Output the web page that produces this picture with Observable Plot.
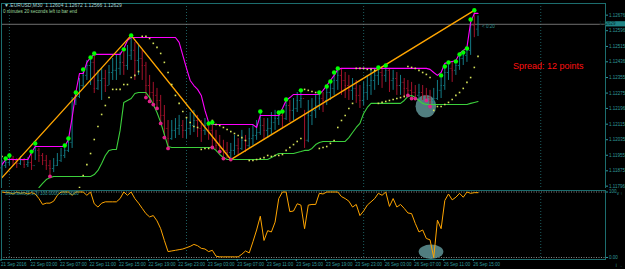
<!DOCTYPE html>
<html><head><meta charset="utf-8">
<script src="https://cdn.jsdelivr.net/npm/d3@7"></script>
<script src="https://cdn.jsdelivr.net/npm/@observablehq/plot@0.6"></script>
<style>
html,body{margin:0;padding:0;background:#000;}
#wrap{position:relative;width:625px;height:269px;background:#000;overflow:hidden;font-family:"Liberation Sans",Arial,sans-serif;}
#main{position:absolute;left:0;top:0;}
#ind{position:absolute;left:0;top:188px;}
.lbl{position:absolute;white-space:nowrap;line-height:1;}
</style></head><body>
<div id="wrap">
<div id="main"></div><div id="ind"></div>
<div class="lbl" style="left:4px;top:3px;font-size:5px;color:#a9d4d4">▼ EURUSD,M30&nbsp; 1.12604 1.12672 1.12566 1.12629</div>
<div class="lbl" style="left:3px;top:10px;font-size:4.6px;color:#9fd99f">0 minutes 20 seconds left to bar end</div>
<div class="lbl" style="left:482px;top:25px;font-size:4.6px;color:#2f8f8f">&lt; 0:20</div>
<div class="lbl" style="left:513px;top:62px;font-size:9px;color:#ff1010">Spread: 12 points</div>
<div class="lbl" style="left:5px;top:192px;font-size:4.5px;color:#2f9a9a">Stochastic(5,3,3) 100.0000 100.0000</div>
</div>
<script>
// ---- data (EURUSD M30, bars indexed from 21 Sep 23:00) ----
const closeP = [1.11902,1.11918,1.11938,1.11928,1.11913,1.11928,1.11907,1.11918,1.11902,1.11980,
1.11954,1.11928,1.11902,1.11887,1.11902,1.11928,1.11954,1.11980,1.12021,1.12237,
1.12258,1.12314,1.12366,1.12417,1.12433,1.12299,1.12340,1.12350,1.12314,1.12381,
1.12392,1.12402,1.12433,1.12417,1.12469,1.12495,1.12443,1.12453,1.12417,1.12314,
1.12278,1.12263,1.12237,1.12160,1.12093,1.12041,1.12083,1.12093,1.12108,1.12083,
1.12093,1.12108,1.12134,1.12093,1.12083,1.12108,1.12083,1.12032,1.12005,1.11990,
1.11980,1.11969,1.11980,1.12005,1.11990,1.12032,1.12005,1.12041,1.12057,1.12072,
1.12108,1.12083,1.12093,1.12124,1.12144,1.12160,1.12144,1.12211,1.12186,1.12196,
1.12237,1.12247,1.12032,1.12160,1.12186,1.12211,1.12247,1.12237,1.12278,1.12299,
1.12340,1.12366,1.12340,1.12314,1.12289,1.12299,1.12263,1.12237,1.12278,1.12314,
1.12340,1.12366,1.12381,1.12366,1.12392,1.12340,1.12350,1.12314,1.12330,1.12299,
1.12289,1.12278,1.12263,1.12278,1.12263,1.12252,1.12237,1.12247,1.12289,1.12314,
1.12381,1.12402,1.12392,1.12417,1.12453,1.12469,1.12495,1.12623,1.12604,1.12629];
const highP = [1.11928,1.11938,1.11954,1.11949,1.11938,1.11949,1.11938,1.11943,1.11974,1.12016,
1.11990,1.11964,1.11954,1.11928,1.11938,1.11964,1.11990,1.12005,1.12041,1.12252,
1.12278,1.12350,1.12397,1.12443,1.12458,1.12479,1.12392,1.12402,1.12392,1.12417,
1.12453,1.12469,1.12484,1.12500,1.12520,1.12572,1.12536,1.12520,1.12495,1.12433,
1.12366,1.12330,1.12299,1.12263,1.12211,1.12134,1.12134,1.12144,1.12160,1.12134,
1.12144,1.12175,1.12186,1.12160,1.12134,1.12144,1.12119,1.12124,1.12083,1.12057,
1.12032,1.12021,1.12016,1.12057,1.12041,1.12083,1.12057,1.12093,1.12108,1.12134,
1.12180,1.12144,1.12144,1.12175,1.12186,1.12175,1.12180,1.12242,1.12237,1.12247,
1.12278,1.12289,1.12186,1.12237,1.12247,1.12263,1.12278,1.12278,1.12309,1.12335,
1.12381,1.12402,1.12402,1.12381,1.12366,1.12350,1.12340,1.12314,1.12330,1.12366,
1.12392,1.12402,1.12407,1.12402,1.12417,1.12402,1.12392,1.12381,1.12366,1.12350,
1.12340,1.12330,1.12314,1.12320,1.12314,1.12299,1.12289,1.12299,1.12340,1.12366,
1.12412,1.12433,1.12433,1.12438,1.12474,1.12484,1.12505,1.12654,1.12701,1.12672];
const lowP = [1.11840,1.11887,1.11902,1.11897,1.11887,1.11902,1.11887,1.11892,1.11877,1.11928,
1.11918,1.11902,1.11877,1.11846,1.11866,1.11897,1.11918,1.11938,1.11969,1.11990,
1.12211,1.12247,1.12299,1.12340,1.12314,1.12273,1.12289,1.12237,1.12278,1.12314,
1.12340,1.12340,1.12366,1.12366,1.12392,1.12443,1.12340,1.12366,1.12340,1.12252,
1.12232,1.12216,1.12196,1.12119,1.12046,1.11990,1.12032,1.12041,1.12057,1.12041,
1.12041,1.12057,1.12072,1.12046,1.12021,1.12057,1.12032,1.11995,1.11980,1.11974,
1.11938,1.11938,1.11933,1.11954,1.11954,1.11980,1.11969,1.11990,1.12005,1.12032,
1.12057,1.12032,1.12041,1.12057,1.12083,1.12108,1.12093,1.12134,1.12124,1.12134,
1.12175,1.12196,1.11990,1.12020,1.12108,1.12144,1.12186,1.12175,1.12211,1.12237,
1.12263,1.12289,1.12263,1.12247,1.12237,1.12237,1.12222,1.12196,1.12211,1.12237,
1.12263,1.12289,1.12314,1.12299,1.12330,1.12278,1.12289,1.12263,1.12263,1.12247,
1.12263,1.12247,1.12247,1.12237,1.12237,1.12237,1.12206,1.12211,1.12237,1.12247,
1.12289,1.12340,1.12330,1.12366,1.12392,1.12417,1.12433,1.12469,1.12560,1.12566];
const firstOpen = 1.11890;
const upperBand = [1.11907,1.11933,1.11933,1.11933,1.11933,1.11933,1.11933,1.11933,1.11969,1.12000,
1.12000,1.12000,1.12000,1.12000,1.12000,1.12000,1.12000,1.12000,1.12036,1.12149,
1.12278,1.12376,1.12376,1.12433,1.12458,1.12474,1.12474,1.12474,1.12474,1.12474,
1.12474,1.12474,1.12474,1.12505,1.12546,1.12561,1.12561,1.12561,1.12561,1.12561,
1.12561,1.12561,1.12561,1.12561,1.12561,1.12561,1.12561,1.12561,1.12536,1.12469,
1.12402,1.12340,1.12314,1.12294,1.12263,1.12186,1.12124,1.12113,1.12113,1.12113,
1.12113,1.12113,1.12113,1.12113,1.12113,1.12113,1.12113,1.12113,1.12113,1.12098,
1.12160,1.12160,1.12160,1.12160,1.12160,1.12160,1.12196,1.12237,1.12252,1.12268,
1.12268,1.12268,1.12268,1.12268,1.12268,1.12268,1.12268,1.12289,1.12314,1.12340,
1.12366,1.12397,1.12402,1.12402,1.12402,1.12402,1.12402,1.12402,1.12402,1.12402,
1.12402,1.12402,1.12402,1.12402,1.12402,1.12402,1.12402,1.12402,1.12402,1.12402,
1.12402,1.12402,1.12402,1.12402,1.12402,1.12402,1.12397,1.12381,1.12366,1.12381,
1.12428,1.12433,1.12438,1.12443,1.12479,1.12495,1.12510,1.12639,1.12685,1.12685];
const lowerBand = [null,null,null,null,null,null,null,null,null,null,
1.11789,1.11810,1.11830,1.11840,1.11846,1.11846,1.11846,1.11846,1.11846,1.11846,
1.11846,1.11846,1.11846,1.11846,1.11846,1.11856,1.11877,1.11913,1.11954,1.11980,
1.11985,1.11985,1.12083,1.12227,1.12237,1.12247,1.12273,1.12278,1.12278,1.12278,
1.12252,1.12216,1.12175,1.12124,1.12062,1.12000,1.11995,1.11995,1.11995,1.11995,
1.11995,1.11995,1.11995,1.11995,1.11995,1.11995,1.11995,1.11995,1.11980,1.11959,
1.11943,1.11933,1.11933,1.11933,1.11933,1.11933,1.11933,1.11933,1.11933,1.11933,
1.11933,1.11933,1.11933,1.11943,1.11954,1.11964,1.11964,1.11964,1.11964,1.11964,
1.11969,1.11974,1.11980,1.11980,1.11990,1.12010,1.12021,1.12026,1.12026,1.12026,
1.12026,1.12026,1.12026,1.12026,1.12046,1.12072,1.12098,1.12119,1.12170,1.12201,
1.12222,1.12222,1.12222,1.12222,1.12222,1.12222,1.12222,1.12222,1.12222,1.12237,
1.12258,1.12263,1.12252,1.12237,1.12222,1.12216,1.12216,1.12216,1.12216,1.12216,
1.12216,1.12216,1.12216,1.12216,1.12216,1.12216,1.12216,1.12222,1.12227,1.12232];
const sarP = [1.11949,null,null,null,null,null,null,null,null,null,
null,null,null,null,null,null,null,null,null,null,
null,1.11789,1.11851,1.11907,1.11964,1.12036,1.12103,1.12165,1.12211,1.12252,
1.12294,1.12294,1.12294,1.12319,1.12319,1.12355,1.12366,1.12386,1.12567,1.12567,
1.12556,1.12531,1.12510,1.12479,1.12433,1.12381,1.12319,1.12263,1.12222,1.12180,
1.12149,1.12124,1.12103,1.12098,1.11985,1.11990,1.11990,1.12134,1.12113,1.12108,
1.12098,1.12088,1.12077,1.12067,1.12057,1.12046,1.12031,1.11928,1.11928,1.11933,
1.11938,1.11943,1.11954,1.11949,1.11954,1.11954,1.11959,1.11980,1.11995,1.12010,
1.12026,1.12041,1.12294,1.12289,1.12283,1.12278,1.11990,1.11995,1.12000,1.12016,
1.12031,1.12098,1.12134,1.12160,1.12196,1.12222,1.12402,1.12402,1.12402,1.12397,
1.12397,1.12392,1.12222,1.12227,1.12232,1.12237,1.12242,1.12247,1.12252,1.12258,
1.12412,1.12407,1.12402,1.12392,1.12381,1.12371,1.12355,1.12186,1.12206,1.12206,
1.12216,1.12227,1.12242,1.12263,1.12278,1.12299,1.12330,1.12355,1.12407,1.12464];
const zigzagBars = [0, 35, 62, 128];
const zigzagPrice = [1.11840, 1.12572, 1.11933, 1.12701];
const greenDotBars = [1,2,8,9,17,18,20,22,24,25,33,35,56,57,70,75,76,77,81,86,88,89,90,91,102,104,119,120,121,123,124,125,126,127,128];
const pinkDotBars = [13,39,40,41,42,43,44,45,57,59,60,62,110,111,112,115,116];
const oscValues = [100,99,99,97,100,98,99,97,99,97,90,81,83,83,86,95,100,100,100,95,
100,100,100,95,100,82,77,83,85,85,85,85,90,100,95,100,90,83,75,67,
62,64,56,44,26,9,10,11,12,13,15,17,20,18,14,13,9,11,2,1,
1,1,1,1,1,5,10,7,24,42,63,26,41,39,54,90,100,100,70,71,
82,80,44,80,81,81,98,97,100,100,100,100,93,90,86,77,81,64,71,80,
85,90,98,95,100,78,90,77,81,75,68,67,52,39,42,29,27,0,57,44,
87,97,88,92,98,92,100,98,99,99];
const priceTicks = [1.12676,1.12596,1.12515,1.12436,1.12355,1.12275,1.12196,1.12115,1.12035,1.11955,1.11875,1.11796];
const timeTickBars = [0,8,16,24,32,40,48,56,64,72,80,88,96,104,112,120,128];
const timeLabels = ["21 Sep 2016","22 Sep 03:00","22 Sep 07:00","22 Sep 11:00","22 Sep 15:00","22 Sep 19:00","22 Sep 23:00","23 Sep 03:00","23 Sep 07:00","23 Sep 11:00","23 Sep 15:00","23 Sep 19:00","23 Sep 23:00","26 Sep 03:00","26 Sep 07:00","26 Sep 11:00","26 Sep 15:00"];
const daySeparatorBars = [2, 50, 98, 146];
const bidPrice = 1.12629;
const mainHighlight = [{bar: 115, price: 1.12205}];
const oscHighlight = [{bar: 116.4, value: 8}];
const oscLevels = [0, 100];

// ---- build tables ----
const bars = closeP.map((c, i) => ({i, open: i ? closeP[i-1] : firstOpen, high: highP[i], low: lowP[i], close: c}));
const upRows = upperBand.map((v, i) => ({i, v}));
const loRows = lowerBand.map((v, i) => ({i, v}));
const sarRows = sarP.map((v, i) => ({i, v})).filter(d => d.v != null);
const zz = zigzagBars.map((b, k) => ({i: b, v: zigzagPrice[k]}));
const gDots = greenDotBars.map(i => ({i, v: highP[i]}));
const pDots = pinkDotBars.map(i => ({i, v: lowP[i]}));
const osc = oscValues.map((v, i) => ({i, v}));

const frameC = "#1c6d6e", axisC = "#2f9a9b", gridC = "#1d5e60";
const upC = "#137b86", dnC = "#a3122c";
const xDomain = [-0.14, 163.55];

function ellipses(data, xk, yk, rx, ry, fill, op) {
  return (index, scales) => {
    const g = d3.create("svg:g");
    for (const d of data) {
      g.append("ellipse").attr("cx", scales.x(d[xk])).attr("cy", scales.y(d[yk]))
        .attr("rx", rx).attr("ry", ry).attr("fill", fill).attr("fill-opacity", op);
    }
    return g.node();
  };
}
function bidBox(price) {
  return (index, scales, v, dim) => {
    const g = d3.create("svg:g");
    const y = scales.y(price);
    g.append("rect").attr("x", dim.width - dim.marginRight + 1).attr("y", y - 2.6)
      .attr("width", dim.marginRight - 1).attr("height", 5.2).attr("fill", "#1f8586");
    g.append("text").attr("x", dim.width - dim.marginRight + 2.5).attr("y", y).attr("dy", "0.35em")
      .attr("font-size", 4.5).attr("fill", "#062b2b").text(d3.format(".5f")(price));
    return g.node();
  };
}

const commonStyle = {background: "#000", color: axisC, fontFamily: "Liberation Sans, Arial, sans-serif", fontSize: "4.5px", overflow: "visible"};

const main = Plot.plot({
  width: 625, height: 190, marginLeft: 1, marginRight: 20, marginTop: 3, marginBottom: 2,
  style: commonStyle,
  x: {domain: xDomain, axis: null},
  y: {domain: [1.11784, 1.12736], axis: null},
  color: {type: "identity"},
  marks: [
    Plot.ruleX(daySeparatorBars, {stroke: gridC, strokeDasharray: "1,2"}),
    Plot.ruleY([bidPrice], {stroke: "#8c8c8c", strokeWidth: 0.8}),
    ellipses(mainHighlight, "bar", "price", 10.3, 11.3, "#5f9496", 0.85),
    Plot.ruleX(bars, {x: "i", y1: "low", y2: "high", stroke: d => d.close >= d.open ? upC : dnC, strokeWidth: 1}),
    Plot.ruleY(bars, {x1: d => d.i - 0.35, x2: "i", y: "open", stroke: d => d.close >= d.open ? upC : dnC, strokeWidth: 0.8}),
    Plot.ruleY(bars, {x1: "i", x2: d => d.i + 0.35, y: "close", stroke: d => d.close >= d.open ? upC : dnC, strokeWidth: 0.8}),
    Plot.line(upRows, {x: "i", y: "v", stroke: "#ff00ff", strokeWidth: 1.1}),
    Plot.line(loRows, {x: "i", y: "v", stroke: "#3ccf3c", strokeWidth: 1.1}),
    Plot.line(zz, {x: "i", y: "v", stroke: "#ffa500", strokeWidth: 1.4}),
    Plot.dot(sarRows, {x: "i", y: "v", symbol: "square", r: 0.9, fill: "#d6e35a", stroke: null}),
    Plot.dot(pDots, {x: "i", y: "v", r: 1.9, fill: "#e0218a", stroke: null}),
    Plot.dot(gDots, {x: "i", y: "v", r: 2.2, fill: "#00ff00", stroke: null}),
    Plot.frame({stroke: frameC}),
    Plot.axisY({anchor: "right", ticks: priceTicks, tickFormat: d3.format(".5f"), tickSize: 2, tickPadding: 1.5, fontSize: 4.5}),
    bidBox(bidPrice)
  ]
});
document.getElementById("main").append(main);

const ind = Plot.plot({
  width: 625, height: 81, marginLeft: 1, marginRight: 20, marginTop: 2, marginBottom: 10,
  style: commonStyle,
  x: {domain: xDomain, axis: null},
  y: {domain: [-3.05, 102.3], axis: null},
  marks: [
    Plot.ruleX(daySeparatorBars, {stroke: gridC, strokeDasharray: "1,2"}),
    Plot.ruleY(oscLevels, {stroke: "#bdbdbd", strokeDasharray: "1,1.5", strokeWidth: 0.7}),
    ellipses(oscHighlight, "bar", "value", 12.4, 7.2, "#5f9496", 0.85),
    Plot.line(osc, {x: "i", y: "v", stroke: "#ffa500", strokeWidth: 1}),
    Plot.frame({stroke: frameC}),
    Plot.axisY({anchor: "right", ticks: oscLevels, tickFormat: d => d === 100 ? "100" : "0.00", tickSize: 2, tickPadding: 1.5, fontSize: 4.5}),
    Plot.axisX({anchor: "bottom", ticks: timeTickBars, tickFormat: d => timeLabels[timeTickBars.indexOf(d)], textAnchor: "start", dx: -1, tickSize: 2, tickPadding: 1, fontSize: 4.5})
  ]
});
document.getElementById("ind").append(ind);
</script>
</body></html>
